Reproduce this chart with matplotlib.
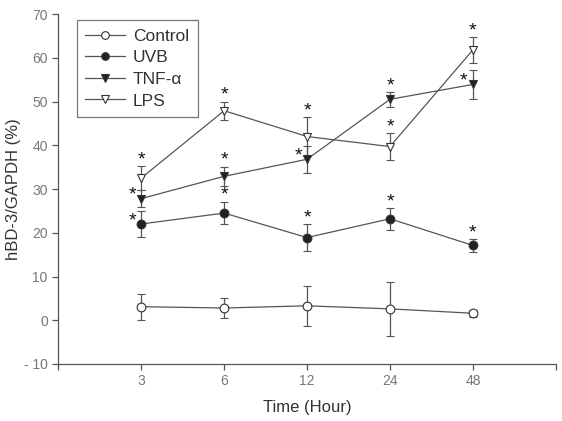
import numpy as np
import matplotlib
matplotlib.use('Agg')
import matplotlib.pyplot as plt
from matplotlib.lines import Line2D

plt.rcParams['font.family'] = ['Liberation Sans', 'DejaVu Sans']
plt.rcParams['axes.unicode_minus'] = False

# Data
times = ['3', '6', '12', '24', '48']
control = [3.1, 2.8, 3.3, 2.6, 1.6]
control_err = [3.0, 2.4, 4.6, 6.2, 0.8]
uvb = [22.0, 24.5, 18.9, 23.2, 17.1]
uvb_err = [2.9, 2.6, 3.1, 2.5, 1.4]
tnf = [27.8, 32.9, 36.8, 50.5, 53.9]
tnf_err = [1.9, 2.2, 3.1, 1.7, 3.3]
lps = [32.5, 47.9, 42.0, 39.7, 61.8]
lps_err = [2.7, 2.1, 4.5, 3.1, 3.0]

# significance marks: 'top' = above error bar, 'left' = beside the marker
uvb_star = ['left', 'top', 'top', 'top', 'top']
tnf_star = ['left', 'top', 'left', 'top', 'left']
lps_star = ['top', 'top', 'top', 'top', 'top']

x = np.arange(1, len(times) + 1)
line_c = '#555555'

fig = plt.figure(figsize=(5.62, 4.21), dpi=100)
ax = fig.add_axes([0.1037, 0.1354, 0.8853, 0.8313])

series = [
    ('Control', control, control_err, 'o', 'white', None),
    ('UVB', uvb, uvb_err, 'o', '#222222', uvb_star),
    ('TNF-α', tnf, tnf_err, 'v', '#222222', tnf_star),
    ('LPS', lps, lps_err, 'v', 'white', lps_star),
]

handles = []
for label, y, err, mk, fc, stars in series:
    ax.errorbar(x, y, yerr=err, color=line_c, lw=0.9, elinewidth=0.9,
                capsize=3.2, capthick=0.9, marker=mk, markersize=6.3,
                markerfacecolor=fc, markeredgecolor='#333333',
                markeredgewidth=0.8, zorder=3)
    handles.append(Line2D([], [], color=line_c, lw=0.9, marker=mk,
                          markersize=5.5, markerfacecolor=fc,
                          markeredgecolor='#333333', markeredgewidth=0.8,
                          label=label))
    if stars is None:
        continue
    for xi, yi, ei, pos in zip(x, y, err, stars):
        if pos == 'top':
            ax.annotate('*', (xi, yi + ei), xytext=(0, 4.5),
                        textcoords='offset points', ha='center', va='center',
                        fontsize=14, color='#111111')
        else:
            ax.annotate('*', (xi, yi), xytext=(-6.5, 2.5),
                        textcoords='offset points', ha='center', va='center',
                        fontsize=14, color='#111111')

ax.set_xlim(0, 6)
ax.set_ylim(-10, 70)
ax.set_xticks(np.arange(0, 7))
ax.set_xticklabels([''] + times + [''])
ax.set_yticks(np.arange(-10, 71, 10))
ax.set_yticklabels(['- 10'] + [str(v) for v in range(0, 71, 10)])

for s in ['top', 'right']:
    ax.spines[s].set_visible(False)
for s in ['left', 'bottom']:
    ax.spines[s].set_color('#555555')
    ax.spines[s].set_linewidth(0.9)
ax.tick_params(direction='out', length=4, width=0.9, color='#555555',
               labelcolor='#777777', labelsize=10)

ax.set_xlabel('Time (Hour)', fontsize=12, color='#333333', labelpad=8)
ax.set_ylabel('hBD-3/GAPDH (%)', fontsize=12, color='#333333', labelpad=2)

leg = ax.legend(handles=handles, loc='upper left', bbox_to_anchor=(0.037, 0.983),
                borderaxespad=0, fontsize=12.5, frameon=True, fancybox=False,
                handlelength=2.3, handletextpad=0.45, borderpad=0.5,
                labelspacing=0.37)
leg.get_frame().set_edgecolor('#555555')
leg.get_frame().set_linewidth(0.9)
for t in leg.get_texts():
    t.set_color('#333333')

fig.savefig('out.png', dpi=100)
